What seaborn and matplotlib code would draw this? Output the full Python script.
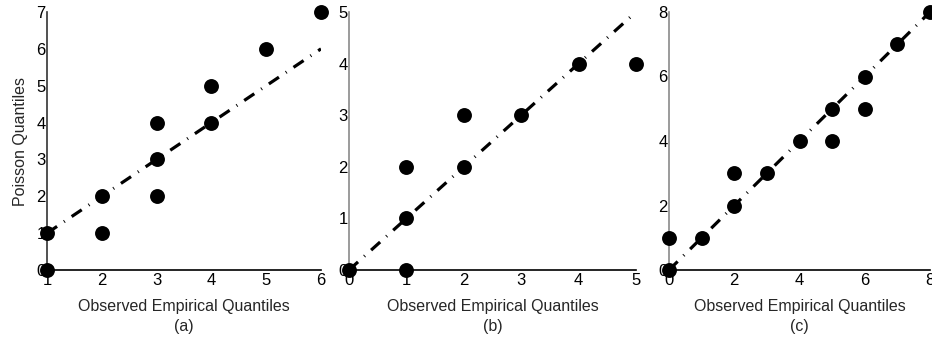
import matplotlib
matplotlib.use("Agg")
import matplotlib.pyplot as plt
import seaborn as sns
import pandas as pd

sns.set_style("white")
plt.rcParams['font.family'] = ['Liberation Sans', 'DejaVu Sans']

# Panel (a)
a_obs = [1, 1, 2, 2, 3, 3, 3, 4, 4, 5, 6]
a_poi = [0, 1, 1, 2, 2, 3, 4, 4, 5, 6, 7]
a_ref_x = [1, 6]
a_ref_y = [1, 6]
# Panel (b)
b_obs = [0, 1, 1, 1, 2, 2, 3, 4, 5]
b_poi = [0, 0, 1, 2, 2, 3, 3, 4, 4]
b_ref_x = [0, 5]
b_ref_y = [0, 5]
# Panel (c)
c_obs = [0, 0, 1, 2, 2, 3, 4, 5, 5, 6, 6, 7, 8]
c_poi = [0, 1, 1, 2, 3, 3, 4, 4, 5, 5, 6, 7, 8]
c_ref_x = [0, 8]
c_ref_y = [0, 8]

panels = [
    (a_obs, a_poi, a_ref_x, a_ref_y, (1, 6), (0, 7), [1, 2, 3, 4, 5, 6], list(range(0, 8)), "(a)", '#333333'),
    (b_obs, b_poi, b_ref_x, b_ref_y, (0, 5), (0, 5), [0, 1, 2, 3, 4, 5], list(range(0, 6)), "(b)", '#8a8a8a'),
    (c_obs, c_poi, c_ref_x, c_ref_y, (0, 8), (0, 8), [0, 2, 4, 6, 8], [0, 2, 4, 6, 8], "(c)", '#8a8a8a'),
]
positions = [
    [47/932, 1-270/337, 274/932, 258/337],
    [349/932, 1-270/337, 287/932, 258/337],
    [669/932, 1-270/337, 261/932, 258/337],
]

fig = plt.figure(figsize=(9.32, 3.37), dpi=100)
for i, (ox, py, rx, ry, xl, yl, xt, yt, tag, lcol) in enumerate(panels):
    ax = fig.add_axes(positions[i])
    df = pd.DataFrame({"obs": ox, "poi": py})
    ref = pd.DataFrame({"x": rx, "y": ry})
    sns.lineplot(data=ref, x="x", y="y", ax=ax, color='black', lw=2.3,
                 linestyle=(0, (3.8, 2.6, 0.3, 2.6)), zorder=2)
    sns.scatterplot(data=df, x="obs", y="poi", ax=ax, color='black', s=115,
                    edgecolor='black', linewidth=0, zorder=3, clip_on=False)
    ax.set_xlim(*xl)
    ax.set_ylim(*yl)
    ax.set_xticks(xt)
    ax.set_yticks(yt)
    ax.set_xlabel("Observed Empirical Quantiles\n" + tag, fontsize=11.5, labelpad=8,
                  linespacing=1.45)
    if i == 0:
        ax.set_ylabel("Poisson Quantiles", fontsize=11.5, labelpad=6)
    else:
        ax.set_ylabel("")
    for s in ['top', 'right']:
        ax.spines[s].set_visible(False)
    ax.spines['bottom'].set_color('black')
    ax.spines['bottom'].set_linewidth(1.2)
    ax.spines['left'].set_color(lcol)
    ax.spines['left'].set_linewidth(1.2)
    ax.tick_params(axis='both', direction='in', length=3, width=0.8, labelsize=12,
                   pad=2, colors='black')
    ax.tick_params(axis='y', pad=1)
    ax.set_facecolor('none')

fig.savefig("out.png", dpi=100)
